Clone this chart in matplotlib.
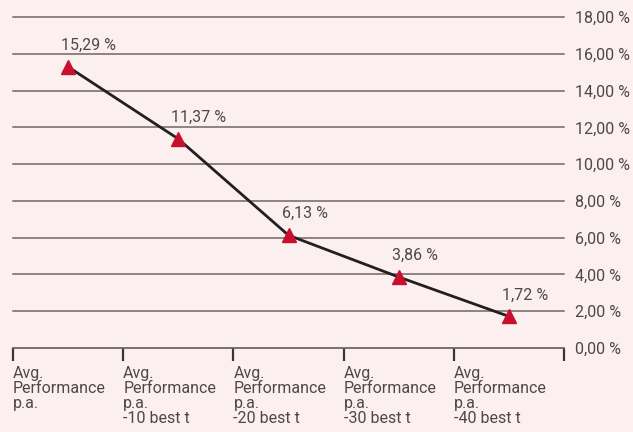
import matplotlib.pyplot as plt
import matplotlib.transforms as mtransforms

plt.rcParams['font.family'] = ['Roboto', 'DejaVu Sans']

# Data
categories = [
    "Avg.\nPerformance\np.a.",
    "Avg.\nPerformance\np.a.\n-10 best t",
    "Avg.\nPerformance\np.a.\n-20 best t",
    "Avg.\nPerformance\np.a.\n-30 best t",
    "Avg.\nPerformance\np.a.\n-40 best t",
]
values = [15.29, 11.37, 6.13, 3.86, 1.72]
yticks = [0, 2, 4, 6, 8, 10, 12, 14, 16, 18]

bg = "#fbf0ef"
text_col = "#4d4848"
grid_col = "#6e6666"

fig = plt.figure(figsize=(6.33, 4.32), dpi=100, facecolor=bg)
ax = fig.add_axes([13 / 633, 84 / 432, 551 / 633, 331 / 432])
ax.set_facecolor(bg)

xs = [i + 0.5 for i in range(len(values))]

# Gridlines
for t in yticks[1:]:
    ax.axhline(t, color=grid_col, lw=1.1, zorder=1, clip_on=False)

ax.plot(xs, values, color="#231f20", lw=2, zorder=3)
ax.plot(xs, values, ls="none", marker="^", ms=10, color="#c8102e", zorder=4)

# Value labels
offset = mtransforms.offset_copy(ax.transData, fig=fig, x=-7, y=14, units="dots")
for x, v in zip(xs, values):
    ax.text(x, v, f"{v:.2f} %".replace(".", ","), transform=offset,
            ha="left", va="bottom", fontsize=11.5, color=text_col)

ax.set_xlim(0, len(values))
ax.set_ylim(0, 18)

for s in ["top", "left", "right"]:
    ax.spines[s].set_visible(False)
ax.spines["bottom"].set_color(grid_col)
ax.spines["bottom"].set_linewidth(1.3)

ax.set_xticks(range(len(values) + 1))
ax.set_xticklabels([])
ax.tick_params(axis="x", direction="out", length=9, width=1.6, color="#3a3434")

# Category labels left aligned at boundaries
trans = mtransforms.blended_transform_factory(ax.transData, ax.transAxes)
for i, lab in enumerate(categories):
    ax.text(i, -0.055, lab, transform=trans, ha="left", va="top",
            fontsize=11.5, color=text_col, linespacing=1.0)

ax.yaxis.tick_right()
ax.set_yticks(yticks)
ax.set_yticklabels([f"{t:.2f} %".replace(".", ",") for t in yticks])
ax.tick_params(axis="y", length=0, pad=8, labelsize=11.5, labelcolor=text_col)

fig.savefig("out.png", dpi=100, facecolor=bg)
